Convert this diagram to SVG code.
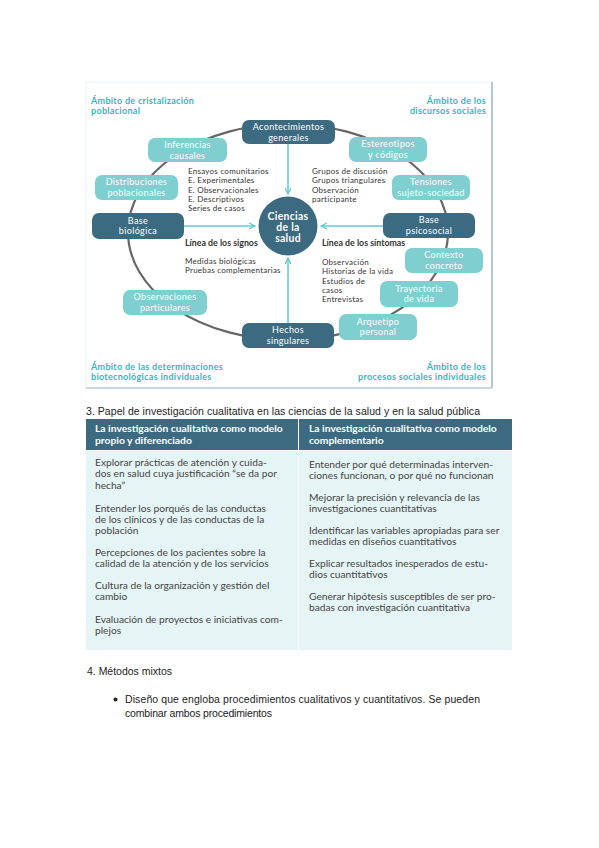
<svg xmlns="http://www.w3.org/2000/svg" width="599" height="848" viewBox="0 0 599 848">
<defs>
<style>
.dark{fill:#3c6b81}
.light{fill:#7fcfd1}
.nt{font-family:Lato,"Liberation Sans",sans-serif;font-size:9px;letter-spacing:0.35px;fill:#fff;text-anchor:middle}
.ct{font-family:Lato,"Liberation Sans",sans-serif;font-size:10.4px;letter-spacing:0.3px;font-weight:bold;fill:#fff;text-anchor:middle}
.amb{font-family:Lato,"Liberation Sans",sans-serif;font-size:9px;letter-spacing:0.3px;font-weight:bold;fill:#35b6bf}
.lst{font-family:Lato,"Liberation Sans",sans-serif;font-size:8px;letter-spacing:0.25px;fill:#333}
.lb{font-family:Lato,"Liberation Sans",sans-serif;font-size:8.8px;font-weight:bold;fill:#333}
.th{font-family:Lato,"Liberation Sans",sans-serif;font-size:10.3px;font-weight:bold;fill:#fff}
.td{font-family:Lato,"Liberation Sans",sans-serif;font-size:10.2px;fill:#444}
.doc{font-family:"Liberation Sans",Arial,sans-serif;font-size:10.5px;fill:#222}
.arr{stroke:#5ccad0;stroke-width:1.5;fill:none;marker-end:url(#ah)}
</style>
<marker id="ah" viewBox="0 0 10 10" refX="9" refY="5" markerWidth="5" markerHeight="5" orient="auto" markerUnits="strokeWidth">
<path d="M1,1 L9,5 L1,9" fill="none" stroke="#5ccad0" stroke-width="1.6"/>
</marker>
</defs>
<rect width="599" height="848" fill="#fff"/>
<rect x="86" y="82" width="406" height="306" fill="none" stroke="#e3f1f4" stroke-width="1"/>
<line x1="492" y1="82" x2="492" y2="388" stroke="#9fb7c3" stroke-width="1.5"/>
<line x1="86" y1="388" x2="492" y2="388" stroke="#b9cfd8" stroke-width="1.5"/>
<g id="ambitos">
<text class="amb" x="91" y="103.5">Ámbito de cristalización</text>
<text class="amb" x="91" y="114">poblacional</text>
<text class="amb" x="486" y="103.5" text-anchor="end">Ámbito de los</text>
<text class="amb" x="486" y="114" text-anchor="end">discursos sociales</text>
<text class="amb" x="91" y="369.5">Ámbito de las determinaciones</text>
<text class="amb" x="91" y="380">biotecnológicas individuales</text>
<text class="amb" x="486" y="369.5" text-anchor="end">Ámbito de los</text>
<text class="amb" x="486" y="380" text-anchor="end">procesos sociales individuales</text>
</g>
<g id="connectors">
<ellipse cx="288" cy="232" rx="160" ry="108" fill="none" stroke="#666" stroke-width="2.2"/>
<line class="arr" x1="288" y1="144" x2="288" y2="194"/>
<line class="arr" x1="288" y1="323" x2="288" y2="258"/>
<line class="arr" x1="184" y1="226" x2="255" y2="226"/>
<line class="arr" x1="383" y1="226" x2="321" y2="226"/>
</g>
<g id="n-acontecimientos"><rect class="dark" x="242" y="120" width="93" height="24" rx="7"/><text class="nt" x="288.5" y="129.8">Acontecimientos</text><text class="nt" x="288.5" y="140.6">generales</text></g>
<g id="n-inferencias"><rect class="light" x="148" y="138" width="79" height="24" rx="7"/><text class="nt" x="187.5" y="147.8">Inferencias</text><text class="nt" x="187.5" y="158.6">causales</text></g>
<g id="n-distribuciones"><rect class="light" x="95" y="175" width="83" height="25" rx="7"/><text class="nt" x="136.5" y="185">Distribuciones</text><text class="nt" x="136.5" y="195.8">poblacionales</text></g>
<g id="n-basebio"><rect class="dark" x="92" y="213" width="92" height="26" rx="7"/><text class="nt" x="138" y="223.5">Base</text><text class="nt" x="138" y="234.3">biológica</text></g>
<g id="n-observaciones"><rect class="light" x="123" y="290" width="84" height="25" rx="7"/><text class="nt" x="165" y="300">Observaciones</text><text class="nt" x="165" y="310.8">particulares</text></g>
<g id="n-hechos"><rect class="dark" x="242" y="323" width="92" height="25" rx="7"/><text class="nt" x="288" y="333">Hechos</text><text class="nt" x="288" y="343.8">singulares</text></g>
<g id="n-arquetipo"><rect class="light" x="339" y="314" width="78" height="26" rx="7"/><text class="nt" x="378" y="324.5">Arquetipo</text><text class="nt" x="378" y="335.3">personal</text></g>
<g id="n-trayectoria"><rect class="light" x="380" y="281" width="78" height="26" rx="7"/><text class="nt" x="419" y="291.5">Trayectoria</text><text class="nt" x="419" y="302.3">de vida</text></g>
<g id="n-contexto"><rect class="light" x="405" y="248" width="78" height="25" rx="7"/><text class="nt" x="444" y="258">Contexto</text><text class="nt" x="444" y="268.8">concreto</text></g>
<g id="n-basepsico"><rect class="dark" x="383" y="213" width="92" height="25" rx="7"/><text class="nt" x="429" y="223">Base</text><text class="nt" x="429" y="233.8">psicosocial</text></g>
<g id="n-tensiones"><rect class="light" x="392" y="175" width="78" height="25" rx="7"/><text class="nt" x="431" y="185">Tensiones</text><text class="nt" x="431" y="195.8">sujeto-sociedad</text></g>
<g id="n-estereotipos"><rect class="light" x="349" y="137" width="78" height="25" rx="7"/><text class="nt" x="388" y="147">Estereotipos</text><text class="nt" x="388" y="157.8">y códigos</text></g>
<g id="n-ciencias"><circle class="dark" cx="288" cy="226" r="29.5"/>
<text class="ct" x="288" y="219.5">Ciencias</text>
<text class="ct" x="288" y="230.5">de la</text>
<text class="ct" x="288" y="241.5">salud</text></g>
<g id="labels">
<text class="lst" x="188" y="174">Ensayos comunitarios</text>
<text class="lst" x="188" y="183.3">E. Experimentales</text>
<text class="lst" x="188" y="192.6">E. Observacionales</text>
<text class="lst" x="188" y="201.9">E. Descriptivos</text>
<text class="lst" x="188" y="211.2">Series de casos</text>
<text class="lst" x="312" y="174">Grupos de discusión</text>
<text class="lst" x="312" y="183.3">Grupos triangulares</text>
<text class="lst" x="312" y="192.6">Observación</text>
<text class="lst" x="312" y="201.9">participante</text>
<text class="lb" x="185" y="246">Línea de los signos</text>
<text class="lst" x="185" y="264">Medidas biológicas</text>
<text class="lst" x="185" y="273.3">Pruebas complementarias</text>
<text class="lb" x="322" y="246">Línea de los síntomas</text>
<text class="lst" x="322" y="265">Observación</text>
<text class="lst" x="322" y="274.3">Historias de la vida</text>
<text class="lst" x="322" y="283.6">Estudios de</text>
<text class="lst" x="322" y="292.9">casos</text>
<text class="lst" x="322" y="302.2">Entrevistas</text>
</g>
<text class="doc" x="86" y="415" textLength="394" lengthAdjust="spacing">3. Papel de investigación cualitativa en las ciencias de la salud y en la salud pública</text>
<g id="table">
<rect x="86" y="419" width="426" height="31" fill="#3c6b81"/>
<rect x="86" y="451" width="426" height="199" fill="#e5f4f4"/>
<line x1="298.5" y1="419" x2="298.5" y2="650" stroke="#fff" stroke-width="1"/>
<text class="th" x="95" y="432">La investigación cualitativa como modelo</text>
<text class="th" x="95" y="443.5">propio y diferenciado</text>
<text class="th" x="309" y="432">La investigación cualitativa como modelo</text>
<text class="th" x="309" y="443.5">complementario</text>
<text class="td" x="95" y="466">Explorar prácticas de atención y cuida-</text>
<text class="td" x="95" y="477.3">dos en salud cuya justificación “se da por</text>
<text class="td" x="95" y="488.6">hecha”</text>
<text class="td" x="95" y="511.5">Entender los porqués de las conductas</text>
<text class="td" x="95" y="522.8">de los clínicos y de las conductas de la</text>
<text class="td" x="95" y="534.1">población</text>
<text class="td" x="95" y="555.5">Percepciones de los pacientes sobre la</text>
<text class="td" x="95" y="566.8">calidad de la atención y de los servicios</text>
<text class="td" x="95" y="589">Cultura de la organización y gestión del</text>
<text class="td" x="95" y="600.3">cambio</text>
<text class="td" x="95" y="622.5">Evaluación de proyectos e iniciativas com-</text>
<text class="td" x="95" y="633.8">plejos</text>
<text class="td" x="309" y="467.5">Entender por qué determinadas interven-</text>
<text class="td" x="309" y="478.8">ciones funcionan, o por qué no funcionan</text>
<text class="td" x="309" y="500.5">Mejorar la precisión y relevancia de las</text>
<text class="td" x="309" y="511.8">investigaciones cuantitativas</text>
<text class="td" x="309" y="533.5">Identificar las variables apropiadas para ser</text>
<text class="td" x="309" y="544.8">medidas en diseños cuantitativos</text>
<text class="td" x="309" y="566.5">Explicar resultados inesperados de estu-</text>
<text class="td" x="309" y="577.8">dios cuantitativos</text>
<text class="td" x="309" y="599.5">Generar hipótesis susceptibles de ser pro-</text>
<text class="td" x="309" y="610.8">badas con investigación cuantitativa</text>
</g>
<text class="doc" x="87" y="675" textLength="85" lengthAdjust="spacing">4. Métodos mixtos</text>
<circle cx="115.5" cy="699.5" r="2" fill="#222"/>
<text class="doc" x="125" y="703" textLength="355" lengthAdjust="spacing">Diseño que engloba procedimientos cualitativos y cuantitativos. Se pueden</text>
<text class="doc" x="125" y="717" textLength="147" lengthAdjust="spacing">combinar ambos procedimientos</text>
</svg>
